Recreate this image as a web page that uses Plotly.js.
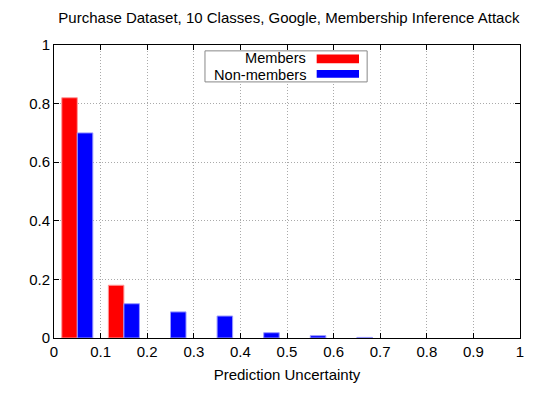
<!DOCTYPE html>
<html><head><meta charset="utf-8">
<script src="https://cdn.plot.ly/plotly-3.0.1.min.js"></script>
<style>html,body{margin:0;padding:0;background:#fff;}#chart{width:540px;height:403px;}</style>
</head><body><div id="chart"></div>
<script>
const binCenters = [0.05, 0.15, 0.25, 0.35, 0.45, 0.55, 0.65, 0.75, 0.85, 0.95];
const members = [0.82, 0.18, 0, 0, 0, 0, 0, 0, 0, 0];
const nonMembers = [0.70, 0.117, 0.089, 0.075, 0.018, 0.008, 0.002, 0, 0, 0];
const xTicks = [0, 0.1, 0.2, 0.3, 0.4, 0.5, 0.6, 0.7, 0.8, 0.9, 1];
const xTickText = ['0', '0.1', '0.2', '0.3', '0.4', '0.5', '0.6', '0.7', '0.8', '0.9', '1'];
const yTicks = [0, 0.2, 0.4, 0.6, 0.8, 1];
const yTickText = ['0', '0.2', '0.4', '0.6', '0.8', '1'];
const seriesNames = ['Members', 'Non-members'];

const font = {family: 'Liberation Sans, Arial, sans-serif', size: 15, color: '#000'};
const legendFont = {family: 'Liberation Sans, Arial, sans-serif', size: 14.6, color: '#000'};

const outline = vals => vals.map(v => v > 0 ? 1 : 0);

const traces = [
  {type: 'bar', x: binCenters, y: members, name: seriesNames[0],
   marker: {color: '#ff0000', line: {color: '#ff9a9a', width: outline(members)}}, showlegend: false},
  {type: 'bar', x: binCenters, y: nonMembers, name: seriesNames[1],
   marker: {color: '#0000ff', line: {color: '#9a9aff', width: outline(nonMembers)}}, showlegend: false}
];

const axisCommon = {
  showline: true, linecolor: '#000', linewidth: 1, mirror: 'ticks',
  ticks: 'inside', ticklen: 5, tickcolor: '#000',
  showgrid: true, gridcolor: '#aaaaaa', griddash: '1px,2px', gridwidth: 1,
  zeroline: false, tickfont: font
};

const layout = {
  width: 540, height: 403,
  margin: {l: 54, r: 20, t: 45, b: 65},
  paper_bgcolor: '#fff', plot_bgcolor: '#fff',
  font: font,
  title: {text: 'Purchase Dataset, 10 Classes, Google, Membership Inference Attack',
          font: font, x: 0.535, xanchor: 'center', y: 0.955, yanchor: 'middle'},
  barmode: 'group', bargap: 1/3, bargroupgap: 0,
  xaxis: Object.assign({}, axisCommon, {range: [0, 1], tickvals: xTicks, ticktext: xTickText,
    title: {text: 'Prediction Uncertainty', font: font, standoff: 10}}),
  yaxis: Object.assign({}, axisCommon, {range: [0, 1], tickvals: yTicks, ticktext: yTickText}),
  shapes: [
    {type: 'rect', xref: 'x', yref: 'y', x0: 0.324, x1: 0.672, y0: 0.874, y1: 0.980,
     line: {color: '#888', width: 1}, fillcolor: '#fff', layer: 'above'},
    {type: 'rect', xref: 'x', yref: 'y', x0: 0.5637, x1: 0.6545, y0: 0.938, y1: 0.968,
     line: {width: 0}, fillcolor: '#ff0000', layer: 'above'},
    {type: 'rect', xref: 'x', yref: 'y', x0: 0.5637, x1: 0.6545, y0: 0.888, y1: 0.915,
     line: {width: 0}, fillcolor: '#0000ff', layer: 'above'}
  ],
  annotations: [
    {xref: 'x', yref: 'y', x: 0.542, y: 0.9546, text: seriesNames[0], showarrow: false,
     xanchor: 'right', yanchor: 'middle', font: legendFont, borderpad: 0},
    {xref: 'x', yref: 'y', x: 0.542, y: 0.8986, text: seriesNames[1], showarrow: false,
     xanchor: 'right', yanchor: 'middle', font: legendFont, borderpad: 0}
  ]
};

Plotly.newPlot('chart', traces, layout, {staticPlot: true, displayModeBar: false});
</script></body></html>
